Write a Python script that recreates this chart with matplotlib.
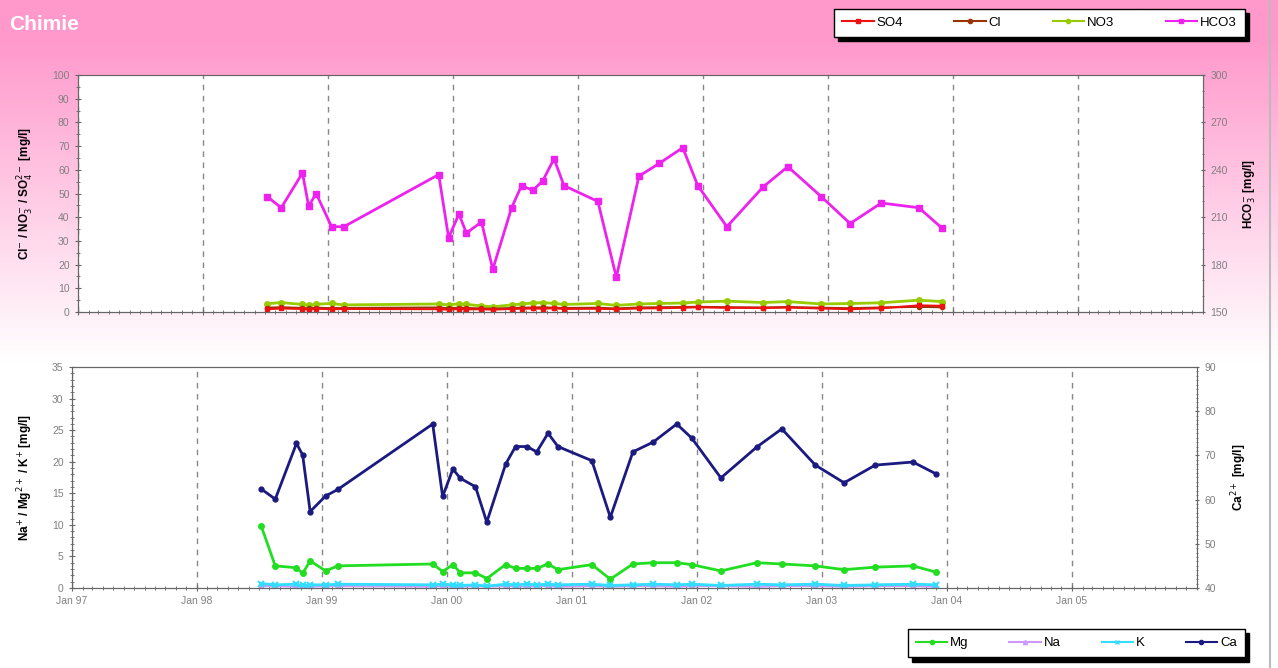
import datetime as dt

import matplotlib
import numpy as np
from matplotlib import dates as mdates
from matplotlib import pyplot as plt
from matplotlib.lines import Line2D
from matplotlib.ticker import FixedLocator, MultipleLocator

matplotlib.use("Agg")
plt.rcParams["font.family"] = ["Liberation Sans", "DejaVu Sans"]

# sampling dates (shared by all series)
sample_dates = [
    "1998-07-08", "1998-08-18", "1998-10-19", "1998-11-06", "1998-11-28",
    "1999-01-12", "1999-02-17", "1999-11-21", "1999-12-20", "2000-01-19",
    "2000-02-10", "2000-03-25", "2000-04-27", "2000-06-21", "2000-07-20",
    "2000-08-22", "2000-09-20", "2000-10-23", "2000-11-21", "2001-02-28",
    "2001-04-23", "2001-06-28", "2001-08-26", "2001-11-03", "2001-12-17",
    "2002-03-12", "2002-06-25", "2002-09-06", "2002-12-13", "2003-03-07",
    "2003-06-06", "2003-09-24", "2003-12-01",
]
tick_years = [1997, 1998, 1999, 2000, 2001, 2002, 2003, 2004, 2005]

# top panel: anions [mg/l]
so4 = [1.2, 1.5, 1.3, 1.0, 1.4, 1.2, 1.3, 1.2, 1.0, 1.3, 1.1, 1.2, 1.0, 1.3, 1.4,
       1.5, 1.4, 1.6, 1.3, 1.4, 1.2, 1.5, 1.6, 1.8, 2.0, 1.8, 1.7, 1.9, 1.5, 1.2,
       1.6, 2.8, 2.6]
cl = [1.8, 2.0, 1.7, 1.5, 1.8, 1.6, 1.7, 1.9, 1.6, 1.8, 1.7, 1.5, 1.4, 1.7, 1.8,
      1.9, 2.0, 1.8, 1.7, 1.8, 1.5, 1.9, 2.0, 2.1, 2.2, 2.0, 1.9, 2.1, 1.8, 1.6,
      1.9, 2.2, 2.0]
no3 = [3.5, 4.0, 3.2, 2.8, 3.3, 3.6, 3.0, 3.4, 3.0, 3.5, 3.2, 2.6, 2.2, 3.0, 3.4,
       3.8, 4.0, 3.6, 3.2, 3.6, 2.8, 3.4, 3.6, 3.8, 4.2, 4.6, 4.0, 4.4, 3.4, 3.6,
       3.9, 5.0, 4.4]
hco3 = [223, 216, 238, 217, 225, 204, 204, 237, 197, 212, 200, 207, 177, 216, 230,
        227, 233, 247, 230, 220, 172, 236, 244, 254, 230, 204, 229, 242, 223, 206,
        219, 216, 203]

# bottom panel: cations [mg/l]
mg = [9.8, 3.5, 3.2, 2.3, 4.3, 2.7, 3.5, 3.8, 2.6, 3.7, 2.4, 2.4, 1.5, 3.7, 3.1,
      3.1, 3.1, 3.8, 2.9, 3.7, 1.4, 3.8, 4.0, 4.0, 3.7, 2.7, 4.0, 3.8, 3.5, 2.9,
      3.3, 3.5, 2.5]
na = [0.3, 0.3, 0.2, 0.3, 0.2, 0.3, 0.3, 0.2, 0.3, 0.3, 0.2, 0.3, 0.2, 0.3, 0.3,
      0.2, 0.3, 0.3, 0.2, 0.3, 0.2, 0.3, 0.3, 0.2, 0.3, 0.3, 0.2, 0.3, 0.3, 0.2,
      0.3, 0.3, 0.2]
k = [0.7, 0.5, 0.6, 0.4, 0.5, 0.5, 0.6, 0.5, 0.6, 0.5, 0.4, 0.5, 0.3, 0.6, 0.5,
     0.6, 0.5, 0.6, 0.5, 0.6, 0.4, 0.5, 0.6, 0.5, 0.6, 0.4, 0.6, 0.5, 0.6, 0.4,
     0.5, 0.6, 0.5]
ca = [62.4, 60.1, 72.7, 70.1, 57.3, 60.8, 62.3, 77.1, 60.7, 66.9, 64.8, 62.9, 54.9,
      68.0, 72.0, 72.0, 70.8, 75.0, 72.0, 68.8, 56.0, 70.8, 73.0, 77.1, 73.9, 64.9,
      71.9, 76.0, 67.8, 63.8, 67.8, 68.5, 65.8]

dates = [dt.datetime.strptime(d, "%Y-%m-%d") for d in sample_dates]
x_start, x_end = dt.datetime(1997, 1, 1), dt.datetime(2006, 1, 1)
year_ticks = [mdates.date2num(dt.datetime(y, 1, 1)) for y in tick_years]

tick_grey = "#808080"
spine_grey = "#666666"

fig = plt.figure(figsize=(12.78, 6.68), dpi=100)

# pink to white background
bg = fig.add_axes([0, 0, 1, 1], zorder=-10)
grad = np.clip((np.linspace(0, 1, 300) - 0.06) / 0.48, 0, 1)[:, None]
pink = np.array([1.0, 0.60, 0.80])
img = pink[None, None, :] * (1 - grad[..., None]) + grad[..., None]
bg.imshow(np.repeat(img, 2, axis=1), aspect="auto", extent=[0, 1, 0, 1])
bg.set_axis_off()
fig.add_artist(Line2D([0.9937, 0.9937], [0, 1], color="#bbbbbb", lw=1.5))

fig.text(0.007, 0.963, "Chimie", color="white", fontsize=15, fontweight="bold", va="center")


def style_axis(ax, show_labels):
    ax.set_xlim(x_start, x_end)
    ax.xaxis.set_major_locator(FixedLocator(year_ticks))
    ax.xaxis.set_minor_locator(mdates.MonthLocator())
    ax.xaxis.set_major_formatter(mdates.DateFormatter("Jan %y"))
    ax.grid(axis="x", which="major", linestyle=(0, (4, 4)), color="#888888", lw=1)
    for s in ax.spines.values():
        s.set_color(spine_grey)
    ax.tick_params(axis="both", which="both", direction="inout", colors=spine_grey,
                   labelcolor=tick_grey, labelsize=7.5)
    ax.tick_params(which="major", length=5)
    ax.tick_params(which="minor", length=3)
    if not show_labels:
        ax.tick_params(axis="x", labelbottom=False)


legend_style = dict(ncol=4, fontsize=9.5, frameon=True, fancybox=False,
                    shadow={"color": "black", "alpha": 1.0, "ox": 3, "oy": -3},
                    edgecolor="black", handlelength=2.4, handletextpad=0.2, borderpad=0.6)

# ---- top panel
ax1 = fig.add_axes([0.0610, 0.5329, 0.8803, 0.3548])
ax1.set_facecolor("white")
style_axis(ax1, False)
ax1.set_ylim(0, 100)
ax1.yaxis.set_major_locator(MultipleLocator(10))
ax1.yaxis.set_minor_locator(MultipleLocator(5))
ax1.plot(dates, no3, color="#99cc00", lw=2, marker="o", ms=4, label="NO3")
ax1.plot(dates, cl, color="#993300", lw=1.5, marker="o", ms=3, label="Cl")
ax1.plot(dates, so4, color="#ee1111", lw=1.5, marker="s", ms=3, label="SO4")
ax1.set_ylabel(r"Cl$^{-}$ / NO$_3^{-}$ / SO$_4^{2-}$ [mg/l]", fontsize=8.5, fontweight="bold", labelpad=12)

ax1r = ax1.twinx()
ax1r.set_ylim(150, 300)
ax1r.yaxis.set_major_locator(MultipleLocator(30))
ax1r.yaxis.set_minor_locator(MultipleLocator(10))
for s in ax1r.spines.values():
    s.set_color(spine_grey)
ax1r.tick_params(axis="y", which="both", direction="inout", colors=spine_grey,
                 labelcolor=tick_grey, labelsize=7.5)
ax1r.plot(dates, hco3, color="#ee22ee", lw=2, marker="s", ms=5, label="HCO3")
ax1r.set_ylabel(r"HCO$_3^{-}$ [mg/l]", fontsize=8.5, fontweight="bold", labelpad=10)

top_handles = [
    Line2D([], [], color="#ee1111", lw=1.5, marker="s", ms=3),
    Line2D([], [], color="#993300", lw=1.5, marker="o", ms=3),
    Line2D([], [], color="#99cc00", lw=1.5, marker="o", ms=3),
    Line2D([], [], color="#ee22ee", lw=1.5, marker="s", ms=3),
]
fig.legend(top_handles, ["SO4", "Cl", "NO3", "HCO3"], loc="upper right",
           bbox_to_anchor=(0.979, 0.997), columnspacing=3.9, **legend_style)

# ---- bottom panel
ax2 = fig.add_axes([0.0563, 0.1198, 0.8803, 0.3308])
ax2.set_facecolor("white")
style_axis(ax2, True)
ax2.set_ylim(0, 35)
ax2.yaxis.set_major_locator(MultipleLocator(5))
ax2.yaxis.set_minor_locator(MultipleLocator(1))
ax2.plot(dates, mg, color="#22dd22", lw=2, marker="o", ms=4, label="Mg")
ax2.plot(dates, na, color="#cc99ff", lw=1.5, marker="^", ms=4, label="Na")
ax2.plot(dates, k, color="#33ddff", lw=2, marker="x", ms=4, mew=1.5, label="K")
ax2.set_ylabel(r"Na$^{+}$ / Mg$^{2+}$ / K$^{+}$ [mg/l]", fontsize=8.5, fontweight="bold", labelpad=12)

ax2r = ax2.twinx()
ax2r.set_ylim(40, 90)
ax2r.yaxis.set_major_locator(MultipleLocator(10))
ax2r.yaxis.set_minor_locator(MultipleLocator(1))
for s in ax2r.spines.values():
    s.set_color(spine_grey)
ax2r.tick_params(axis="y", which="both", direction="inout", colors=spine_grey,
                 labelcolor=tick_grey, labelsize=7.5)
ax2r.plot(dates, ca, color="#1a1a80", lw=2, marker="o", ms=3.5, label="Ca")
ax2r.set_ylabel(r"Ca$^{2+}$ [mg/l]", fontsize=8.5, fontweight="bold", labelpad=10)

bottom_handles = [
    Line2D([], [], color="#22dd22", lw=1.5, marker="o", ms=3),
    Line2D([], [], color="#cc99ff", lw=1.5, marker="^", ms=3),
    Line2D([], [], color="#33ddff", lw=1.5, marker="x", ms=3),
    Line2D([], [], color="#1a1a80", lw=1.5, marker="o", ms=3),
]
fig.legend(bottom_handles, ["Mg", "Na", "K", "Ca"], loc="lower right",
           bbox_to_anchor=(0.979, 0.006), columnspacing=3.1, **legend_style)

fig.savefig("out.png", dpi=100)
plt.close(fig)
